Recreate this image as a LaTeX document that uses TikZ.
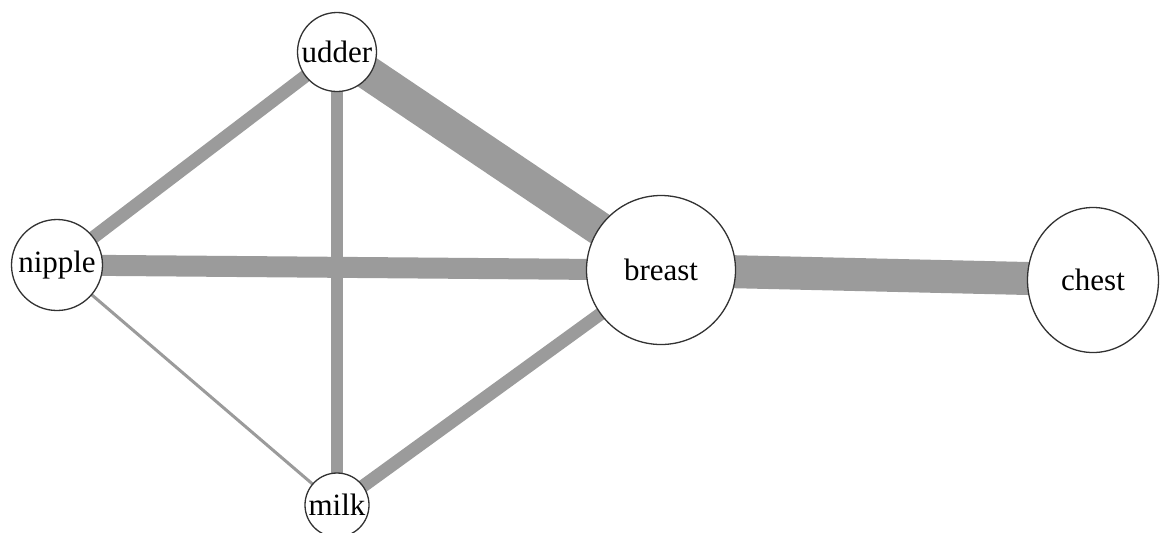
\documentclass[tikz,border=0pt]{standalone}
\usepackage{fontspec}
\setmainfont{Liberation Serif}
\usepackage{xcolor}
\usepackage{tikz}
\usetikzlibrary{backgrounds,shapes.geometric}
\definecolor{wngrey}{RGB}{155,155,155}
\definecolor{wnrim}{RGB}{50,50,50}
\tikzset{
  term/.style={circle, draw=wnrim, line width=0.65pt, fill=white, inner sep=0pt,
               font=\fontsize{15.5}{17}\selectfont},
  tie/.style={line width=#1, color=wngrey},
}
\begin{document}
\begin{tikzpicture}[x=0.5pt,y=-0.5pt]
\useasboundingbox (0,0) rectangle (1161,532);
\node[term, minimum size=39.5pt] (udder) at (337,52) {udder};
\node[term, minimum size=45.5pt] (nipple) at (57,265) {nipple};
\node[term, minimum size=32pt] (milk) at (337,505) {milk};
\node[term, minimum size=74.5pt] (breast) at (661,270) {breast};
\node[term, ellipse, minimum width=65.5pt, minimum height=72.5pt] (chest) at (1093,280) {chest};
\begin{pgfonlayer}{background}
\draw[tie=17pt] (udder.center) -- (breast.center);
\draw[tie=10.5pt] (nipple.center) -- (breast.center);
\draw[tie=16.5pt] (breast.center) -- (chest.center);
\draw[tie=6.5pt] (udder.center) -- (nipple.center);
\draw[tie=6pt] (udder.center) -- (milk.center);
\draw[tie=6.5pt] (milk.center) -- (breast.center);
\draw[tie=1.5pt] (nipple.center) -- (milk.center);
\end{pgfonlayer}
\end{tikzpicture}
\end{document}
